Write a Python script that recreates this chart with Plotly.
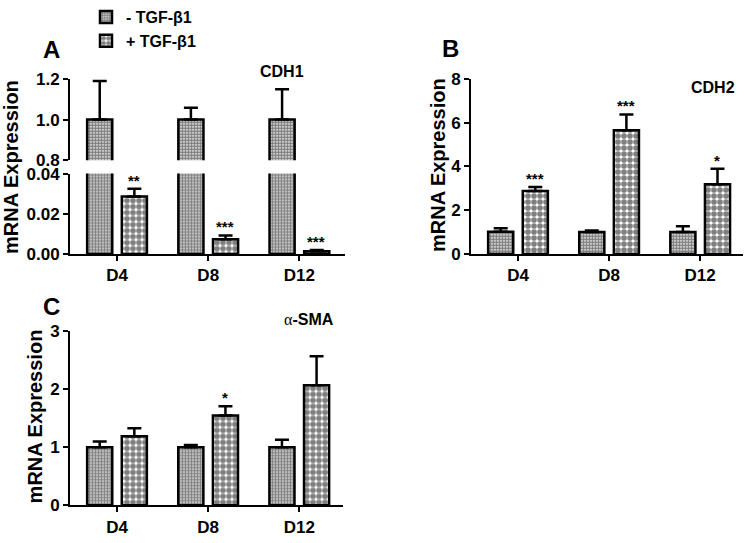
import plotly.graph_objects as go

# ---------------- data ----------------
days = ["D4", "D8", "D12"]
series_names = ["- TGF-β1", "+ TGF-β1"]

cdh1_ctrl = [1.0, 1.0, 1.0]
cdh1_ctrl_err = [0.19, 0.058, 0.149]
cdh1_tgf = [0.0286, 0.0073, 0.0013]
cdh1_tgf_err = [0.0038, 0.0019, 0.0006]
cdh1_sig = ["**", "***", "***"]

cdh2_ctrl = [1.01, 1.0, 1.0]
cdh2_ctrl_err = [0.16, 0.07, 0.26]
cdh2_tgf = [2.88, 5.66, 3.18]
cdh2_tgf_err = [0.18, 0.72, 0.72]
cdh2_sig = ["***", "***", "*"]

sma_ctrl = [1.0, 1.0, 1.0]
sma_ctrl_err = [0.10, 0.04, 0.13]
sma_tgf = [1.19, 1.55, 2.07]
sma_tgf_err = [0.14, 0.16, 0.50]
sma_sig = ["", "*", ""]

cdh1_upper_ticks = [0.8, 1.0, 1.2]
cdh1_lower_ticks = [0.0, 0.02, 0.04]
cdh2_ticks = [0, 2, 4, 6, 8]
sma_ticks = [0, 1, 2, 3]

# ---------------- layout helpers ----------------
W, H = 751, 543
FONT = "Arial, Liberation Sans, sans-serif"


def xd(a, b):
    return [a / W, b / W]


def yd(top, bottom):
    return [1 - bottom / H, 1 - top / H]


CTRL_PAT = dict(shape=".", size=3, solidity=0.78, fgcolor="black", bgcolor="white")
TGF_PAT = dict(shape=".", size=6, solidity=0.7, fgcolor="black", bgcolor="white")

fig = go.Figure()


def add_pair(xa, ya, ctrl, ctrl_err, tgf, tgf_err, err_ctrl=True, err_tgf=True, legend=False):
    for name, vals, errs, pat, show in [
        (series_names[0], ctrl, ctrl_err, CTRL_PAT, err_ctrl),
        (series_names[1], tgf, tgf_err, TGF_PAT, err_tgf),
    ]:
        fig.add_trace(go.Bar(
            x=days, y=vals, name=name, xaxis=xa, yaxis=ya,
            showlegend=legend,
            marker=dict(color="white", pattern=pat, line=dict(color="black", width=2.5)),
            error_y=dict(type="data", array=errs, arrayminus=[0] * len(errs), symmetric=False,
                         visible=show, color="black", thickness=2.5, width=7),
        ))


# Panel A (broken axis)
add_pair("x", "y", cdh1_ctrl, cdh1_ctrl_err, cdh1_tgf, cdh1_tgf_err, err_ctrl=False, err_tgf=True)
add_pair("x2", "y2", cdh1_ctrl, cdh1_ctrl_err, cdh1_tgf, cdh1_tgf_err, err_ctrl=True, err_tgf=False)
# Panel B
add_pair("x3", "y3", cdh2_ctrl, cdh2_ctrl_err, cdh2_tgf, cdh2_tgf_err, legend=True)
# Panel C
add_pair("x4", "y4", sma_ctrl, sma_ctrl_err, sma_tgf, sma_tgf_err)

tickfont = dict(family=FONT, size=17, color="black", weight="bold")

common_x = dict(type="category", categoryorder="array", categoryarray=days,
                showline=True, linecolor="black", linewidth=2, ticks="outside",
                ticklen=5, tickwidth=2, tickcolor="black", tickfont=tickfont,
                showgrid=False, zeroline=False, fixedrange=True)
common_y = dict(showline=True, linecolor="black", linewidth=2, ticks="outside",
                ticklen=5, tickwidth=2, tickcolor="black", tickfont=tickfont,
                showgrid=False, zeroline=False, fixedrange=True)

fig.update_layout(
    width=W, height=H,
    margin=dict(l=0, r=0, t=0, b=0),
    paper_bgcolor="white", plot_bgcolor="white",
    barmode="group", bargap=0.24, bargroupgap=0.275,
    font=dict(family=FONT, color="black"),
    showlegend=True,
    legend=dict(x=86 / W, y=1 + 15 / H, xanchor="left", yanchor="top",
                font=dict(family=FONT, size=16, color="black", weight="bold"),
                bgcolor="rgba(0,0,0,0)", itemwidth=30, tracegroupgap=0),
    xaxis=dict(common_x, domain=xd(70, 345), range=[-0.516, 2.5], anchor="y"),
    yaxis=dict(common_y, domain=yd(167, 251), range=[0, 0.04], tickvals=cdh1_lower_ticks,
               ticktext=[f"{v:.2f}" for v in cdh1_lower_ticks], anchor="x"),
    xaxis2=dict(common_x, domain=xd(70, 345), range=[-0.516, 2.5], anchor="y2",
                showline=False, ticks="", showticklabels=False),
    yaxis2=dict(common_y, domain=yd(68, 153), range=[0.8, 1.2], tickvals=cdh1_upper_ticks,
                ticktext=[f"{v:.1f}" for v in cdh1_upper_ticks], anchor="x2"),
    xaxis3=dict(common_x, domain=xd(471, 743), range=[-0.516, 2.47], anchor="y3"),
    yaxis3=dict(common_y, domain=yd(68, 251), range=[0, 8], tickvals=cdh2_ticks, anchor="x3"),
    xaxis4=dict(common_x, domain=xd(70, 343), range=[-0.516, 2.48], anchor="y4"),
    yaxis4=dict(common_y, domain=yd(332, 514), range=[0, 3], tickvals=sma_ticks, anchor="x4"),
)

ann = []
star_font = dict(family=FONT, size=15, color="black", weight="bold")
for xa, ya, vals, errs, sig in [
    ("x", "y", cdh1_tgf, cdh1_tgf_err, cdh1_sig),
    ("x3", "y3", cdh2_tgf, cdh2_tgf_err, cdh2_sig),
    ("x4", "y4", sma_tgf, sma_tgf_err, sma_sig),
]:
    for i, d in enumerate(days):
        if sig[i]:
            ann.append(dict(x=d, y=vals[i] + errs[i], xref=xa, yref=ya, text=sig[i],
                            showarrow=False, yanchor="bottom", xshift=17, yshift=-2,
                            font=star_font))

big = dict(family=FONT, size=24, color="black", weight="bold")
title_font = dict(family=FONT, size=16, color="black", weight="bold")
ytitle_font = dict(family=FONT, size=20, color="black", weight="bold")


def paper(text, px, py, font, angle=0):
    return dict(text=text, x=px / W, y=1 - py / H, xref="paper", yref="paper",
                showarrow=False, xanchor="center", yanchor="middle", font=font, textangle=angle)


ann += [
    paper("A", 52, 37, big),
    paper("B", 450, 36, big),
    paper("C", 51, 306, big),
    paper("CDH1", 282, 60, title_font),
    paper("CDH2", 713, 77, title_font),
    paper("<span style='font-family:Liberation Serif, Times New Roman, serif;font-weight:normal'>α</span>-SMA",
          309, 320, title_font),
    paper("mRNA Expression", 11, 160, ytitle_font, -90),
    paper("mRNA Expression", 438, 158, ytitle_font, -90),
    paper("mRNA Expression", 35, 421, ytitle_font, -90),
]
fig.update_layout(annotations=ann)

fig.write_html("out.html", config={"displayModeBar": False},
               post_script="document.body.style.margin='0px';")
